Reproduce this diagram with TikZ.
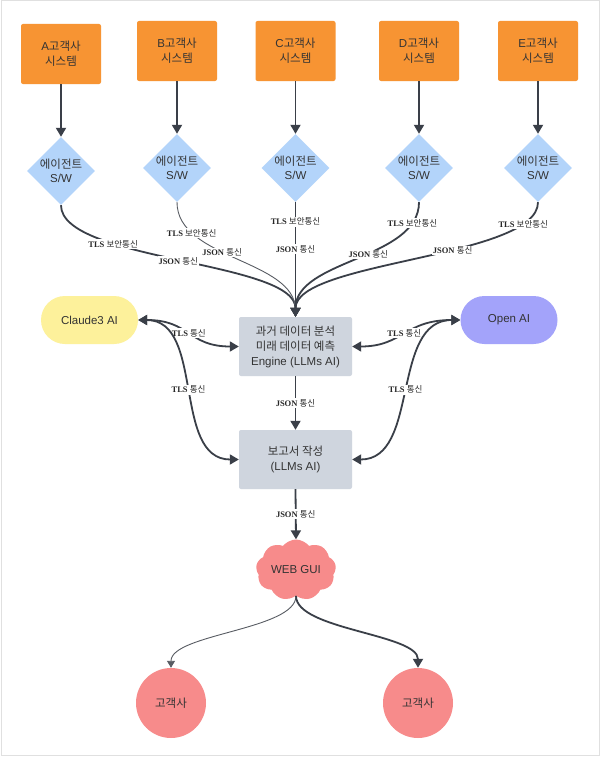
\documentclass[tikz,border=0pt]{standalone}
\usepackage{fontspec}
\setmainfont{Liberation Sans}
\newfontfamily\krfont{Noto Sans CJK KR}
\newfontfamily\lblfont{Liberation Serif}
\usetikzlibrary{shapes.geometric,shapes.symbols,arrows.meta}
\newcommand\ko[1]{{\krfont #1}}
\newcommand\kol[1]{{\krfont\mdseries #1}}
\definecolor{orangeF}{HTML}{F79433}
\definecolor{blueF}{HTML}{B3D4FA}
\definecolor{grayF}{HTML}{CFD5DE}
\definecolor{yellowF}{HTML}{FDF19B}
\definecolor{purpleF}{HTML}{A3A3FA}
\definecolor{redF}{HTML}{F78B8B}
\definecolor{lineC}{HTML}{3A3F48}
\definecolor{txtC}{HTML}{333333}
\tikzset{
  base/.style={text=txtC, font=\fontsize{11.5}{15}\selectfont, align=center, inner sep=0pt},
  sysbox/.style={base, rectangle, rounded corners=2pt, fill=orangeF, minimum width=80pt, minimum height=60pt},
  agent/.style={base, diamond, fill=blueF, minimum width=68pt, minimum height=68pt, font=\fontsize{11.5}{14}\selectfont},
  engbox/.style={base, rectangle, rounded corners=2pt, fill=grayF, minimum width=113pt, minimum height=59pt},
  aibox/.style={base, rectangle, rounded corners=24pt, minimum width=97pt, minimum height=48pt},
  custc/.style={base, circle, fill=redF, minimum size=70pt},
  lbl/.style={fill=white, text=black!85, inner sep=1pt, font=\lblfont\bfseries\fontsize{8.5}{9}\selectfont},
  conn/.style={draw=lineC, line width=1.8pt, -{Triangle[length=9pt,width=10pt]}},
  thinconn/.style={draw=lineC!85, line width=0.9pt, -{Triangle[length=7pt,width=8pt]}},
  dconn/.style={draw=lineC, line width=1.8pt, {Triangle[length=9pt,width=10pt]}-{Triangle[length=9pt,width=10pt]}},
}
\begin{document}
\begin{tikzpicture}[x=1pt,y=-1pt]
\useasboundingbox (0,0) rectangle (600,760);
\fill[white] (0,0) rectangle (600,760);
\draw[black!12, line width=1pt] (1,1) rectangle (599,755);

% systems
\node[sysbox] (sA) at (61,54) {A\ko{고객사}\\\ko{시스템}};
\node[sysbox] (sB) at (177,51) {B\ko{고객사}\\\ko{시스템}};
\node[sysbox] (sC) at (295.5,51) {C\ko{고객사}\\\ko{시스템}};
\node[sysbox] (sD) at (419,51) {D\ko{고객사}\\\ko{시스템}};
\node[sysbox] (sE) at (538,51) {E\ko{고객사}\\\ko{시스템}};

% agents
\node[agent] (dA) at (61,171) {\ko{에이전트}\\S/W};
\node[agent] (dB) at (177,168) {\ko{에이전트}\\S/W};
\node[agent] (dC) at (295.5,168) {\ko{에이전트}\\S/W};
\node[agent] (dD) at (419,168) {\ko{에이전트}\\S/W};
\node[agent] (dE) at (538,168) {\ko{에이전트}\\S/W};

% center boxes
\node[engbox] (eng) at (295.5,346.5) {\ko{과거 데이터 분석}\\\ko{미래 데이터 예측}\\Engine (LLMs AI)};
\node[engbox] (rep) at (295.5,459.5) {\ko{보고서 작성}\\(LLMs AI)};
\node[aibox, fill=yellowF] (cl) at (89.5,320) {Claude3 AI};
\node[aibox, fill=purpleF] (oa) at (509,320) {Open AI};

% web gui and customers
\node[base, cloud, cloud puffs=9, cloud puff arc=105, aspect=1.35, fill=redF, minimum width=80pt, minimum height=58pt] (web) at (296,570) {WEB GUI};
\node[custc] (c1) at (171,703) {\ko{고객사}};
\node[custc] (c2) at (418,703) {\ko{고객사}};

% system -> agent
\draw[conn] (sA.south) -- (dA.north);
\draw[conn] (sB.south) -- (dB.north);
\draw[conn] (sC.south) -- (dC.north);
\draw[conn] (sD.south) -- (dD.north);
\draw[conn] (sE.south) -- (dE.north);

% agent -> engine
\draw[conn] (dA.south) .. controls +(0,56) and +(0,-56) .. (eng.north)
  node[lbl,pos=.305] {TLS \kol{보안통신}} node[lbl,pos=.5] {JSON \kol{통신}};
\draw[thinconn] (dB.south) .. controls +(0,57.5) and +(0,-57.5) .. (eng.north)
  node[lbl,pos=.22] {TLS \kol{보안통신}} node[lbl,pos=.42] {JSON \kol{통신}};
\draw[conn] (dC.south) -- (eng.north)
  node[lbl,pos=.17] {TLS \kol{보안통신}} node[lbl,pos=.41] {JSON \kol{통신}};
\draw[conn] (dD.south) .. controls +(0,57.5) and +(0,-57.5) .. (eng.north)
  node[lbl,pos=.14] {TLS \kol{보안통신}} node[lbl,pos=.44] {JSON \kol{통신}};
\draw[conn] (dE.south) .. controls +(0,56) and +(0,-56) .. (eng.north)
  node[lbl,pos=.15] {TLS \kol{보안통신}} node[lbl,pos=.40] {JSON \kol{통신}};

% AI links
\draw[dconn] (cl.east) .. controls +(52,0) and +(-51,0) .. (eng.west)
  node[lbl,pos=.5] {TLS \kol{통신}};
\draw[dconn] (cl.east) .. controls +(67,0) and +(-67,0) .. (rep.west)
  node[lbl,pos=.5] {TLS \kol{통신}};
\draw[dconn] (oa.west) .. controls +(-56,0) and +(51,0) .. (eng.east)
  node[lbl,pos=.5] {TLS \kol{통신}};
\draw[dconn] (oa.west) .. controls +(-70,0) and +(68,0) .. (rep.east)
  node[lbl,pos=.5] {TLS \kol{통신}};

% flow down
\draw[conn] (eng.south) -- (rep.north) node[lbl,midway] {JSON \kol{통신}};
\draw[conn] (rep.south) -- (web.north) node[lbl,midway] {JSON \kol{통신}};

% web -> customers
\draw[thinconn] (web.south) .. controls +(0,34) and +(0,-34) .. (c1.north);
\draw[conn] (web.south) .. controls +(0,34) and +(0,-34) .. (c2.north);
\end{tikzpicture}
\end{document}
